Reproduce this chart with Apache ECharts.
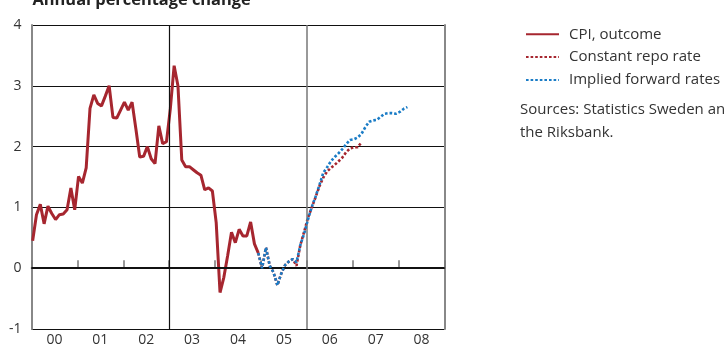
<!DOCTYPE html>
<html>
<head>
<meta charset="utf-8">
<script src="https://cdn.jsdelivr.net/npm/echarts@6/dist/echarts.min.js"></script>
<style>
html,body{margin:0;padding:0;background:#fff;overflow:hidden;}
#c{width:724px;height:347px;}
</style>
</head>
<body>
<div id="c"></div>
<script>
// Year labels (category axis, one per year 2000-2008)
const yearLabels = ['00','01','02','03','04','05','06','07','08'];
// Month index offset of first CPI observation (Jan 2000 = 0)
const cpiStart = 0;
// CPI outcome, annual % change, monthly from Jan 2000
const cpiValues = [0.45,0.88,1.05,0.73,1.02,0.90,0.80,0.88,0.89,0.96,1.32,0.96,
  1.51,1.40,1.65,2.63,2.85,2.71,2.67,2.83,3.0,2.48,2.47,2.60,
  2.73,2.60,2.73,2.29,1.83,1.84,2.00,1.80,1.72,2.34,2.05,2.08,
  2.62,3.33,3.0,1.78,1.67,1.67,1.62,1.57,1.53,1.29,1.32,1.27,
  0.75,-0.40,-0.15,0.21,0.59,0.42,0.64,0.53,0.53,0.76,0.40,0.25];
// Forecasts start at month index 59 (Dec 2004)
const fcStart = 59;
const repoValues = [0.25,0.0,0.34,0.04,-0.07,-0.28,-0.09,0.05,0.11,0.15,
  0.04,0.38,0.60,0.83,1.0,1.17,1.35,1.49,1.59,1.65,1.70,1.76,1.82,1.91,1.97,1.99,1.99,2.07];
const forwardValues = [0.25,0.0,0.34,0.04,-0.07,-0.28,-0.09,0.05,0.11,0.15,
  0.10,0.38,0.57,0.80,1.01,1.18,1.37,1.57,1.66,1.76,1.83,1.89,1.96,2.04,2.11,2.12,2.15,
  2.21,2.32,2.41,2.43,2.44,2.49,2.54,2.55,2.55,2.54,2.57,2.62,2.65];
const seriesNames = ['CPI, outcome','Constant repo rate','Implied forward rates'];
const yTicks = {min:-1, max:4, interval:1};
const vLines = [36, 72]; // Jan 2003, Jan 2006 (month index)

const pos = 0.3;
const toPts = (start, arr) => arr.map((v,i)=>[start+i+pos, v]);

const RED = '#a6262f', BLUE = '#1a7cc6';
const FONT = '"Open Sans", sans-serif';

const chart = echarts.init(document.getElementById('c'), null, {renderer:'canvas'});
chart.setOption({
  animation:false,
  grid:{left:31.5, right:279.5, top:25, bottom:15},
  xAxis:[
    {type:'category', data:yearLabels, boundaryGap:true,
     axisLine:{lineStyle:{color:'#222', width:1.5}},
     axisTick:{show:true, inside:true, length:8, lineStyle:{color:'#777', width:1.5}},
     axisLabel:{color:'#333', fontSize:14, fontFamily:FONT, margin:4},
     splitLine:{show:false}},
    {type:'value', min:0, max:108, show:false}
  ],
  yAxis:[
    {type:'value', min:yTicks.min, max:yTicks.max, interval:yTicks.interval,
     axisLine:{show:true, lineStyle:{color:'#888', width:2}},
     axisTick:{show:false},
     axisLabel:{color:'#333', fontSize:14, fontFamily:FONT, margin:10},
     splitLine:{show:true, lineStyle:{color:'#111', width:1.2}}},
    {type:'value', min:yTicks.min, max:yTicks.max, interval:yTicks.interval, position:'right',
     axisLine:{show:true, lineStyle:{color:'#888', width:2}},
     axisTick:{show:false}, axisLabel:{show:false}, splitLine:{show:false}}
  ],
  legend:{
    orient:'vertical', left:520, top:21.3, itemWidth:33, itemHeight:14, itemGap:6.8,
    itemStyle:{opacity:0},
    textStyle:{fontSize:15, fontFamily:FONT, color:'#333', lineHeight:16, padding:[0,0,0,5]},
    data:seriesNames
  },
  graphic:[
    {type:'text', left:32.5, top:-8, style:{text:'Annual percentage change', font:'bold 16.4px '+FONT, fill:'#222'}},
    {type:'text', left:520, top:99, style:{text:'Sources: Statistics Sweden and\nthe Riksbank.', font:'15px '+FONT, fill:'#333', lineHeight:22.3}}
  ],
  series:[
    {name:seriesNames[0], type:'line', xAxisIndex:1, data:toPts(cpiStart, cpiValues),
     symbol:'none', lineStyle:{color:RED, width:3}, itemStyle:{color:RED},
     markLine:{silent:true, symbol:'none', label:{show:false},
       data:[
         {yAxis:0, lineStyle:{color:'#111', width:2.2, type:'solid'}},
         {xAxis:vLines[0], lineStyle:{color:'#111', width:1.2, type:'solid'}},
         {xAxis:vLines[1], lineStyle:{color:'#777', width:1.5, type:'solid'}}
       ]},
     z:3},
    {name:seriesNames[1], type:'line', xAxisIndex:1, data:toPts(fcStart, repoValues),
     symbol:'none', lineStyle:{color:RED, width:2.6, type:[2.6,2]}, itemStyle:{color:RED}, z:4},
    {name:seriesNames[2], type:'line', xAxisIndex:1, data:toPts(fcStart, forwardValues),
     symbol:'none', lineStyle:{color:BLUE, width:2.6, type:[2.6,2]}, itemStyle:{color:BLUE}, z:5}
  ]
});
</script>
</body>
</html>
